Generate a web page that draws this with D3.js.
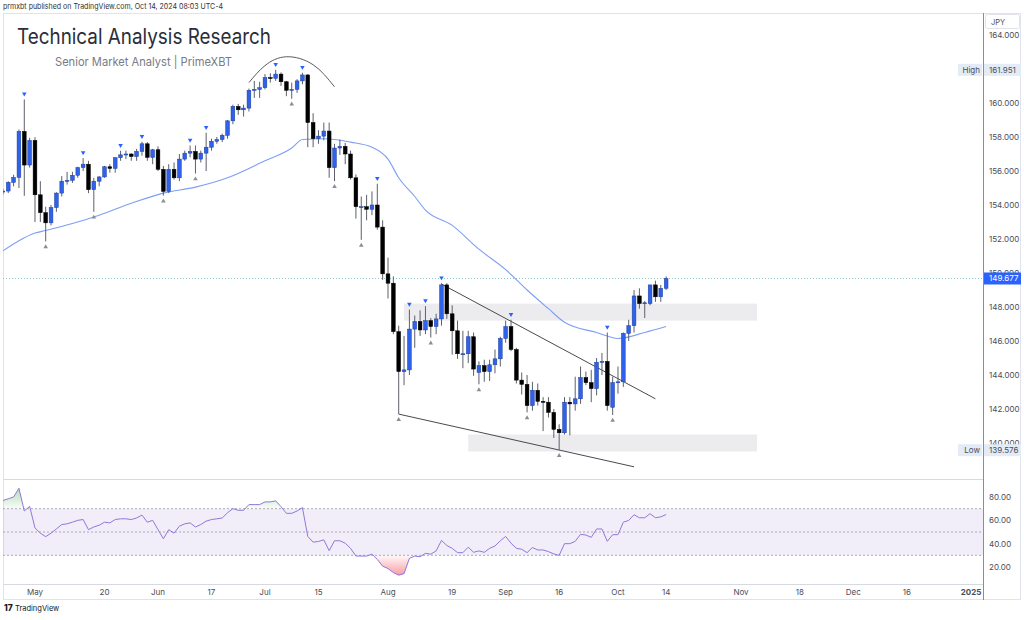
<!DOCTYPE html>
<html><head><meta charset="utf-8">
<script src="https://cdn.jsdelivr.net/npm/d3@7"></script>
<style>
html,body{margin:0;padding:0;background:#fff;}
svg{display:block;font-family:Inter,"Liberation Sans",Arial,sans-serif;}
</style></head><body>
<svg id="c" width="1024" height="620"></svg>
<script>
// ---------- DATA (USD/JPY daily) ----------
const firstDay = "2024-04-23";
const lastAxisDay = "2025-01-01";
const opens  = [154.80,154.82,155.33,155.62,158.33,156.35,157.80,154.60,153.55,152.95,153.85,154.70,155.40,155.45,155.75,156.20,156.40,154.90,155.40,155.65,156.25,156.15,156.78,156.95,157.00,156.85,157.15,157.60,156.80,157.25,156.10,154.80,156.10,155.60,156.70,157.05,157.15,156.70,157.05,157.40,157.75,157.85,158.10,158.95,159.80,159.60,159.70,160.75,160.80,160.90,161.50,161.45,161.70,161.25,160.75,160.80,161.30,161.65,158.85,157.90,158.05,158.35,156.20,157.35,157.45,157.00,155.60,153.90,153.90,153.75,154.00,152.70,149.95,149.40,146.55,144.20,144.30,146.70,147.15,146.65,147.20,146.85,147.30,149.30,147.60,146.60,145.25,145.25,146.25,144.15,144.55,144.20,144.60,144.95,146.15,146.85,145.50,143.70,143.45,142.20,143.10,142.45,142.40,141.80,140.80,140.60,142.40,142.30,142.60,143.85,143.55,143.20,144.75,144.80,142.10,143.55,143.60,146.45,146.90,148.65,148.20,148.20,149.30,148.60,149.10];
const highs  = [154.95,155.40,155.78,158.44,160.21,157.95,157.99,155.40,153.90,154.00,154.75,155.70,155.95,155.95,156.25,156.76,156.60,155.60,155.70,156.30,156.40,156.80,157.19,157.20,157.05,157.30,157.72,157.70,157.30,157.45,156.30,156.40,156.50,157.00,157.20,157.50,157.50,157.20,158.25,157.90,158.00,158.20,159.00,159.90,159.95,159.90,160.85,161.30,161.25,161.70,161.75,161.95,161.80,161.30,161.20,161.40,161.78,161.70,159.40,158.40,158.85,158.85,157.60,157.85,157.65,157.20,155.80,154.50,154.60,154.80,155.25,153.10,150.90,149.80,146.90,146.30,147.85,147.50,147.80,148.05,147.35,147.60,149.40,149.40,148.10,147.20,146.60,146.60,146.50,144.80,144.90,144.90,145.50,146.25,147.20,147.25,145.60,144.15,144.00,143.60,143.50,142.70,142.70,142.00,141.10,142.70,142.70,143.90,144.50,144.20,144.30,145.00,145.30,146.50,143.90,144.50,146.50,147.25,149.00,149.10,148.35,149.30,149.55,149.30,149.80];
const lows   = [154.60,154.70,155.10,155.00,154.54,156.20,153.00,153.00,151.86,152.80,153.60,154.50,155.20,155.30,155.60,156.00,154.70,153.60,155.10,155.60,155.90,155.90,156.60,156.70,156.60,156.60,156.90,156.60,156.40,156.00,154.55,154.70,155.50,155.40,156.60,156.80,155.85,156.50,156.00,157.20,157.60,157.70,157.90,158.75,159.30,159.20,159.50,160.30,160.30,160.80,161.20,161.30,161.00,160.40,160.25,160.60,161.10,157.40,157.40,157.60,157.80,155.60,155.40,156.95,156.40,155.50,153.20,151.95,153.10,153.40,152.55,149.60,148.50,146.40,141.70,143.40,144.00,145.60,146.30,146.40,146.20,146.40,146.90,147.30,145.20,144.95,144.40,144.70,143.95,143.45,143.60,143.65,144.10,144.50,145.90,145.40,143.50,142.85,141.80,141.90,142.20,140.70,141.50,140.30,139.58,140.50,140.45,141.90,142.30,143.40,142.40,142.80,144.00,141.90,141.65,142.90,143.30,146.00,146.50,147.90,147.35,148.10,148.30,148.30,149.00];
const closes = [154.82,155.33,155.62,158.33,156.35,157.80,154.60,153.55,152.95,153.85,154.70,155.40,155.45,155.75,156.20,156.40,154.90,155.40,155.65,156.25,156.15,156.78,156.95,157.00,156.85,157.15,157.60,156.80,157.25,156.10,154.80,156.10,155.60,156.70,157.05,157.15,156.70,157.05,157.40,157.75,157.85,158.10,158.95,159.80,159.60,159.70,160.75,160.80,160.90,161.50,161.45,161.70,161.25,160.75,160.80,161.30,161.65,158.85,157.90,158.05,158.35,156.20,157.35,157.45,157.00,155.60,153.90,153.90,153.75,154.00,152.70,149.95,149.40,146.55,144.20,144.30,146.70,147.15,146.65,147.20,146.85,147.30,149.30,147.60,146.60,145.25,145.25,146.25,144.35,144.55,144.20,144.60,144.95,146.15,146.85,145.50,143.70,143.45,142.20,143.10,142.45,142.40,141.80,140.80,140.60,142.40,142.30,142.60,143.85,143.55,143.20,144.75,144.80,142.20,143.55,143.60,146.45,146.90,148.65,148.20,148.25,149.30,148.60,149.10,149.68];
// RSI(14) read per bar
const rsiValues = [77,78.5,80,87.5,68,72,53.5,49,46,49,52.6,56.4,57,58.4,60,60.7,52,54.3,55.8,58.4,57.8,60.7,61.3,61.3,60.7,62,64.5,58.4,60,52,44.2,52,49,55,57,57.8,54.3,56.4,59.3,60.7,61.3,62,66.5,70,68.6,68.6,73.5,73.5,73.5,75.8,75.8,76.7,71.7,66,66,68,70.9,46.2,41.3,41.9,43.3,34,42.5,42.5,40.4,36,29.4,29.4,29.4,31,26.5,20.7,18.7,15.2,13,14.3,27.4,29.4,28.8,31.7,31,33.8,42.8,38.4,36,32.3,32.3,37,32.6,33.8,32.6,36,38,42.5,46.2,40.4,36,35.2,32.3,36.7,34.6,34.6,33.2,31.2,30,40,40,42,48,47.4,45.4,52.6,52.6,42,47.7,47.7,58.4,59.9,64.8,62.2,62.2,65.7,62.2,63,65];
// moving average (blue line), sampled points [date, value]
const maDates  = ["2024-04-23","2024-04-26","2024-05-01","2024-05-03","2024-05-17","2024-05-27","2024-06-04","2024-06-12","2024-06-20","2024-07-01","2024-07-08","2024-07-10","2024-07-16","2024-07-23","2024-07-29","2024-08-01","2024-08-05","2024-08-08","2024-08-12","2024-08-19","2024-08-26","2024-09-02","2024-09-06","2024-09-12","2024-09-17","2024-09-25","2024-10-01","2024-10-08","2024-10-14"];
const maValues = [151.3,151.9,152.35,152.5,153.4,154.1,154.7,155.05,155.6,156.6,157.35,157.85,157.9,157.7,157.4,156.7,155.6,154.5,153.7,152.8,151.4,150.2,149.0,147.9,147.1,146.5,146.15,146.5,146.85];
const pivotHighDates = ["2024-04-29","2024-05-14","2024-05-23","2024-05-29","2024-06-11","2024-06-14","2024-07-03","2024-07-10","2024-07-30","2024-08-07","2024-08-12","2024-08-15","2024-09-03","2024-09-27"];
const pivotLowDates  = ["2024-05-03","2024-05-16","2024-06-04","2024-06-12","2024-07-08","2024-07-18","2024-07-25","2024-08-05","2024-08-13","2024-08-26","2024-09-06","2024-09-16","2024-09-30"];
const arcDates = ["2024-06-26","2024-07-01","2024-07-05","2024-07-12","2024-07-18"];
const arcPrices = [161.2,162.2,162.72,162.25,160.95];
const upperTrendDates = ["2024-08-15","2024-10-10"], upperTrendPrices = [149.35,142.6];
const lowerTrendDates = ["2024-08-05","2024-10-04"], lowerTrendPrices = [141.7,138.6];
const zoneStart = ["2024-08-06","2024-08-22"], zoneEnd = ["2024-11-06","2024-11-06"];
const zoneTop = [148.2,140.5], zoneBottom = [147.2,139.5];
const priceTicks = [164,160,158,156,154,152,150,148,146,144,142,140];
const rsiTicks = [80,60,40,20];
const timeTickDates  = ["2024-05-01","2024-05-20","2024-06-03","2024-06-17","2024-07-01","2024-07-15","2024-08-01","2024-08-19","2024-09-02","2024-09-16","2024-10-01","2024-10-14","2024-11-01","2024-11-18","2024-12-02","2024-12-16","2025-01-01"];
const timeTickLabels = ["May","20","Jun","17","Jul","15","Aug","19","Sep","16","Oct","14","Nov","18","Dec","16","2025"];
const highLabel = 161.951, lowLabel = 139.576, lastPrice = 149.677;

// ---------- SCALES ----------
const days = [];
for (let d = new Date(firstDay + "T00:00:00Z"); d <= new Date(lastAxisDay + "T00:00:00Z"); d.setUTCDate(d.getUTCDate() + 1)) {
  const wd = d.getUTCDay(); if (wd !== 0 && wd !== 6) days.push(d.toISOString().slice(0, 10));
}
const x = d3.scalePoint().domain(days).range([2.9, 971]);
const step = x.step();
const y = d3.scaleLinear().domain([140, 164]).range([443, 35]);
const yr = d3.scaleLinear().domain([20, 80]).range([567, 497]);

const svg = d3.select("#c");
const defs = svg.append("defs");
defs.append("clipPath").attr("id", "mainClip").append("rect").attr("x", 3).attr("y", 13).attr("width", 980).attr("height", 466);
defs.append("clipPath").attr("id", "rsiClip").append("rect").attr("x", 3).attr("y", 481).attr("width", 980).attr("height", 103);
defs.append("clipPath").attr("id", "obClip").append("rect").attr("x", 3).attr("y", 481).attr("width", 980).attr("height", yr(70) - 481);
defs.append("clipPath").attr("id", "osClip").append("rect").attr("x", 3).attr("y", yr(30)).attr("width", 980).attr("height", 584 - yr(30));
const gG = defs.append("linearGradient").attr("id", "gGreen").attr("gradientUnits", "userSpaceOnUse").attr("x1", 0).attr("x2", 0).attr("y1", yr(95)).attr("y2", yr(70));
gG.append("stop").attr("offset", 0).attr("stop-color", "#4caf50").attr("stop-opacity", 0.6);
gG.append("stop").attr("offset", 1).attr("stop-color", "#4caf50").attr("stop-opacity", 0.03);
const gR = defs.append("linearGradient").attr("id", "gRed").attr("gradientUnits", "userSpaceOnUse").attr("x1", 0).attr("x2", 0).attr("y1", yr(30)).attr("y2", yr(5));
gR.append("stop").attr("offset", 0).attr("stop-color", "#f23645").attr("stop-opacity", 0.03);
gR.append("stop").attr("offset", 1).attr("stop-color", "#f23645").attr("stop-opacity", 0.7);

// ---------- FRAME ----------
svg.append("text").attr("x", 3).attr("y", 8.5).attr("font-size", 7.6).attr("fill", "#333")
  .attr("textLength", 220).attr("lengthAdjust", "spacingAndGlyphs")
  .text("prmxbt published on TradingView.com, Oct 14, 2024 08:03 UTC-4");
svg.append("rect").attr("x", 3.5).attr("y", 13.5).attr("width", 1017).attr("height", 586).attr("fill", "none").attr("stroke", "#e0e3eb");
svg.append("line").attr("x1", 3).attr("x2", 983).attr("y1", 479.5).attr("y2", 479.5).attr("stroke", "#d6d9e0");
svg.append("line").attr("x1", 3).attr("x2", 983).attr("y1", 584.5).attr("y2", 584.5).attr("stroke", "#d6d9e0");
svg.append("line").attr("x1", 983.5).attr("x2", 983.5).attr("y1", 13).attr("y2", 600).attr("stroke", "#8a8d96");

// ---------- MAIN PANE ----------
const main = svg.append("g").attr("clip-path", "url(#mainClip)");
main.selectAll("rect.zone").data(zoneStart).join("rect").attr("class", "zone")
  .attr("x", (d) => x(d)).attr("width", (d, i) => x(zoneEnd[i]) - x(d))
  .attr("y", (d, i) => y(zoneTop[i])).attr("height", (d, i) => y(zoneBottom[i]) - y(zoneTop[i]))
  .attr("fill", "#ececef");
main.append("line").attr("x1", 3).attr("x2", 983).attr("y1", y(lastPrice)).attr("y2", y(lastPrice))
  .attr("stroke", "#8cc7c9").attr("stroke-dasharray", "1,2").attr("stroke-width", 1);
main.append("path").datum(maDates.map((d, i) => [x(d), y(maValues[i])]))
  .attr("d", d3.line().curve(d3.curveMonotoneX)).attr("fill", "none").attr("stroke", "#7e9ff5").attr("stroke-width", 1.1);
[[upperTrendDates, upperTrendPrices], [lowerTrendDates, lowerTrendPrices]].forEach(([ds, ps]) => {
  main.append("line").attr("x1", x(ds[0])).attr("y1", y(ps[0])).attr("x2", x(ds[1])).attr("y2", y(ps[1]))
    .attr("stroke", "#4a4a4f").attr("stroke-width", 1);
});
main.append("path").datum(arcDates.map((d, i) => [x(d), y(arcPrices[i])]))
  .attr("d", d3.line().curve(d3.curveNatural)).attr("fill", "none").attr("stroke", "#4a4a4f").attr("stroke-width", 0.9);
const candles = opens.map((o, i) => ({ d: days[i], o, h: highs[i], l: lows[i], c: closes[i] }));
const bw = step * 0.7;
const cg = main.selectAll("g.c").data(candles).join("g").attr("class", "c");
cg.append("line").attr("x1", (d) => x(d.d)).attr("x2", (d) => x(d.d)).attr("y1", (d) => y(d.h)).attr("y2", (d) => y(d.l))
  .attr("stroke", "#5d606b").attr("stroke-width", 1);
cg.append("rect").attr("x", (d) => x(d.d) - bw / 2).attr("width", bw)
  .attr("y", (d) => y(Math.max(d.o, d.c))).attr("height", (d) => Math.max(1, Math.abs(y(d.o) - y(d.c))))
  .attr("fill", (d) => (d.c >= d.o ? "#2f62ea" : "#000"))
  .attr("stroke", (d) => (d.c >= d.o ? "#1d3c9c" : "#000")).attr("stroke-width", 0.5);
const byDate = new Map(candles.map((c) => [c.d, c]));
main.selectAll("path.ph").data(pivotHighDates).join("path").attr("class", "ph")
  .attr("d", d3.symbol(d3.symbolTriangle, 9)).attr("fill", "#2962ff")
  .attr("transform", (d) => `translate(${x(d)},${y(byDate.get(d).h) - 5.5}) rotate(180)`);
main.selectAll("path.pl").data(pivotLowDates).join("path").attr("class", "pl")
  .attr("d", d3.symbol(d3.symbolTriangle, 9)).attr("fill", "#8a8d96")
  .attr("transform", (d) => `translate(${x(d)},${y(byDate.get(d).l) + 5.5})`);

// title
svg.append("text").attr("x", 17).attr("y", 44).attr("font-size", 21).attr("fill", "#2a2e39")
  .attr("textLength", 254).attr("lengthAdjust", "spacingAndGlyphs").text("Technical Analysis Research");
svg.append("text").attr("x", 55).attr("y", 66).attr("font-size", 11.8).attr("fill", "#787b86")
  .attr("textLength", 177).attr("lengthAdjust", "spacingAndGlyphs").text("Senior Market Analyst | PrimeXBT");

// ---------- PRICE AXIS ----------
const ax = svg.append("g").attr("font-size", 8).attr("fill", "#4a4d57");
ax.selectAll("text.pt").data(priceTicks).join("text").attr("class", "pt").attr("x", 989).attr("y", (d) => y(d) + 3)
  .text((d) => d3.format(".3f")(d));
ax.append("rect").attr("x", 985.5).attr("y", 14.5).attr("width", 34).attr("height", 14).attr("fill", "#fff").attr("stroke", "#e0e3eb").attr("rx", 2);
ax.append("text").attr("x", 991).attr("y", 24.5).attr("font-size", 7.5).text("JPY");
function sideLabel(val, name, bg, fg) {
  if (name) {
    ax.append("rect").attr("x", 958).attr("y", y(val) - 6).attr("width", 24).attr("height", 12).attr("fill", bg);
    ax.append("text").attr("x", 980).attr("y", y(val) + 3).attr("text-anchor", "end").attr("fill", fg).text(name);
  }
  ax.append("rect").attr("x", 984).attr("y", y(val) - 6).attr("width", 37).attr("height", 12).attr("fill", bg);
  ax.append("text").attr("x", 989).attr("y", y(val) + 3).attr("fill", fg).text(d3.format(".3f")(val));
}
sideLabel(highLabel, "High", "#e3ebf7", "#4a4d57");
sideLabel(lowLabel, "Low", "#e3ebf7", "#4a4d57");
sideLabel(lastPrice, null, "#2962ff", "#fff");

// ---------- RSI PANE ----------
const rg = svg.append("g").attr("clip-path", "url(#rsiClip)");
rg.append("rect").attr("x", 3).attr("width", 980).attr("y", yr(70)).attr("height", yr(30) - yr(70)).attr("fill", "#7e57c2").attr("fill-opacity", 0.1);
rg.selectAll("line.band").data([70, 50, 30]).join("line").attr("class", "band")
  .attr("x1", 3).attr("x2", 983).attr("y1", (d) => yr(d)).attr("y2", (d) => yr(d))
  .attr("stroke", "#9598a1").attr("stroke-dasharray", "2,2").attr("stroke-width", 0.8);
const rsiPts = rsiValues.map((v, i) => [x(days[i]), v]);
rg.append("path").datum(rsiPts).attr("clip-path", "url(#obClip)")
  .attr("d", d3.area().x((d) => d[0]).y0(yr(70)).y1((d) => yr(d[1]))).attr("fill", "url(#gGreen)");
rg.append("path").datum(rsiPts).attr("clip-path", "url(#osClip)")
  .attr("d", d3.area().x((d) => d[0]).y0(yr(30)).y1((d) => yr(d[1]))).attr("fill", "url(#gRed)");
rg.append("path").datum(rsiPts).attr("d", d3.line().x((d) => d[0]).y((d) => yr(d[1])))
  .attr("fill", "none").attr("stroke", "#9177d8").attr("stroke-width", 1);
ax.selectAll("text.rt").data(rsiTicks).join("text").attr("class", "rt").attr("x", 989).attr("y", (d) => yr(d) + 3)
  .text((d) => d3.format(".2f")(d));

// ---------- TIME AXIS ----------
svg.append("g").attr("font-size", 8).attr("fill", "#4a4d57").selectAll("text").data(timeTickDates).join("text")
  .attr("x", (d) => x(d)).attr("y", 595).attr("text-anchor", "middle")
  .attr("font-weight", (d, i) => (timeTickLabels[i] === "2025" ? 700 : 400))
  .text((d, i) => timeTickLabels[i]);

// ---------- FOOTER ----------
const ft = svg.append("g");
ft.append("text").attr("x", 4).attr("y", 611).attr("font-size", 8.5).attr("font-weight", 800).attr("fill", "#131722").text("17");
ft.append("text").attr("x", 15).attr("y", 611).attr("font-size", 7.5).attr("fill", "#131722").text("TradingView");
</script>
</body></html>
